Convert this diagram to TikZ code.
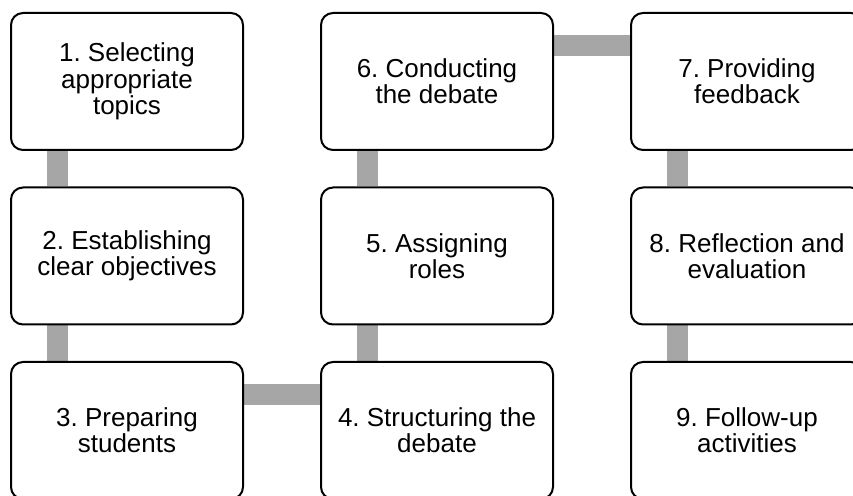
\documentclass[tikz,border=0pt]{standalone}
\usepackage{fontspec}
\setmainfont{Liberation Sans}
\usetikzlibrary{backgrounds}
\definecolor{bargray}{HTML}{A6A6A6}
\tikzset{
  stepbox/.style={draw=black, line width=2pt, rounded corners=12pt, fill=white,
    minimum width=232pt, minimum height=137pt, inner sep=0pt, align=center,
    font=\fontsize{26}{26.3}\selectfont\frenchspacing},
  bar/.style={draw=bargray, line width=21pt}
}
\begin{document}
\begin{tikzpicture}[x=1pt,y=1pt]
\useasboundingbox (0,0) rectangle (853,495);
\clip (0,0) rectangle (853,495);
\node[stepbox] (n1) at (127,413.5) {1. Selecting\\appropriate\\topics};
\node[stepbox] (n2) at (127,239) {2. Establishing\\clear objectives};
\node[stepbox] (n3) at (127,64.5) {3. Preparing\\students};
\node[stepbox] (n4) at (437,64.5) {4. Structuring the\\debate};
\node[stepbox] (n5) at (437,239) {5. Assigning\\roles};
\node[stepbox] (n6) at (437,413.5) {6. Conducting\\the debate};
\node[stepbox] (n7) at (747,413.5) {7. Providing\\feedback};
\node[stepbox] (n8) at (747,239) {8. Reflection and\\evaluation};
\node[stepbox] (n9) at (747,64.5) {9. Follow-up\\activities};
\begin{scope}[on background layer]
\draw[bar] ([xshift=47.5pt]n1.south west) -- ([xshift=47.5pt]n2.north west);
\draw[bar] ([xshift=47.5pt]n2.south west) -- ([xshift=47.5pt]n3.north west);
\draw[bar] ([yshift=-33.5pt]n3.north east) -- ([yshift=-33.5pt]n4.north west);
\draw[bar] ([xshift=47.5pt]n4.north west) -- ([xshift=47.5pt]n5.south west);
\draw[bar] ([xshift=47.5pt]n5.north west) -- ([xshift=47.5pt]n6.south west);
\draw[bar] ([yshift=-33.5pt]n6.north east) -- ([yshift=-33.5pt]n7.north west);
\draw[bar] ([xshift=47.5pt]n7.south west) -- ([xshift=47.5pt]n8.north west);
\draw[bar] ([xshift=47.5pt]n8.south west) -- ([xshift=47.5pt]n9.north west);
\end{scope}
\end{tikzpicture}
\end{document}
